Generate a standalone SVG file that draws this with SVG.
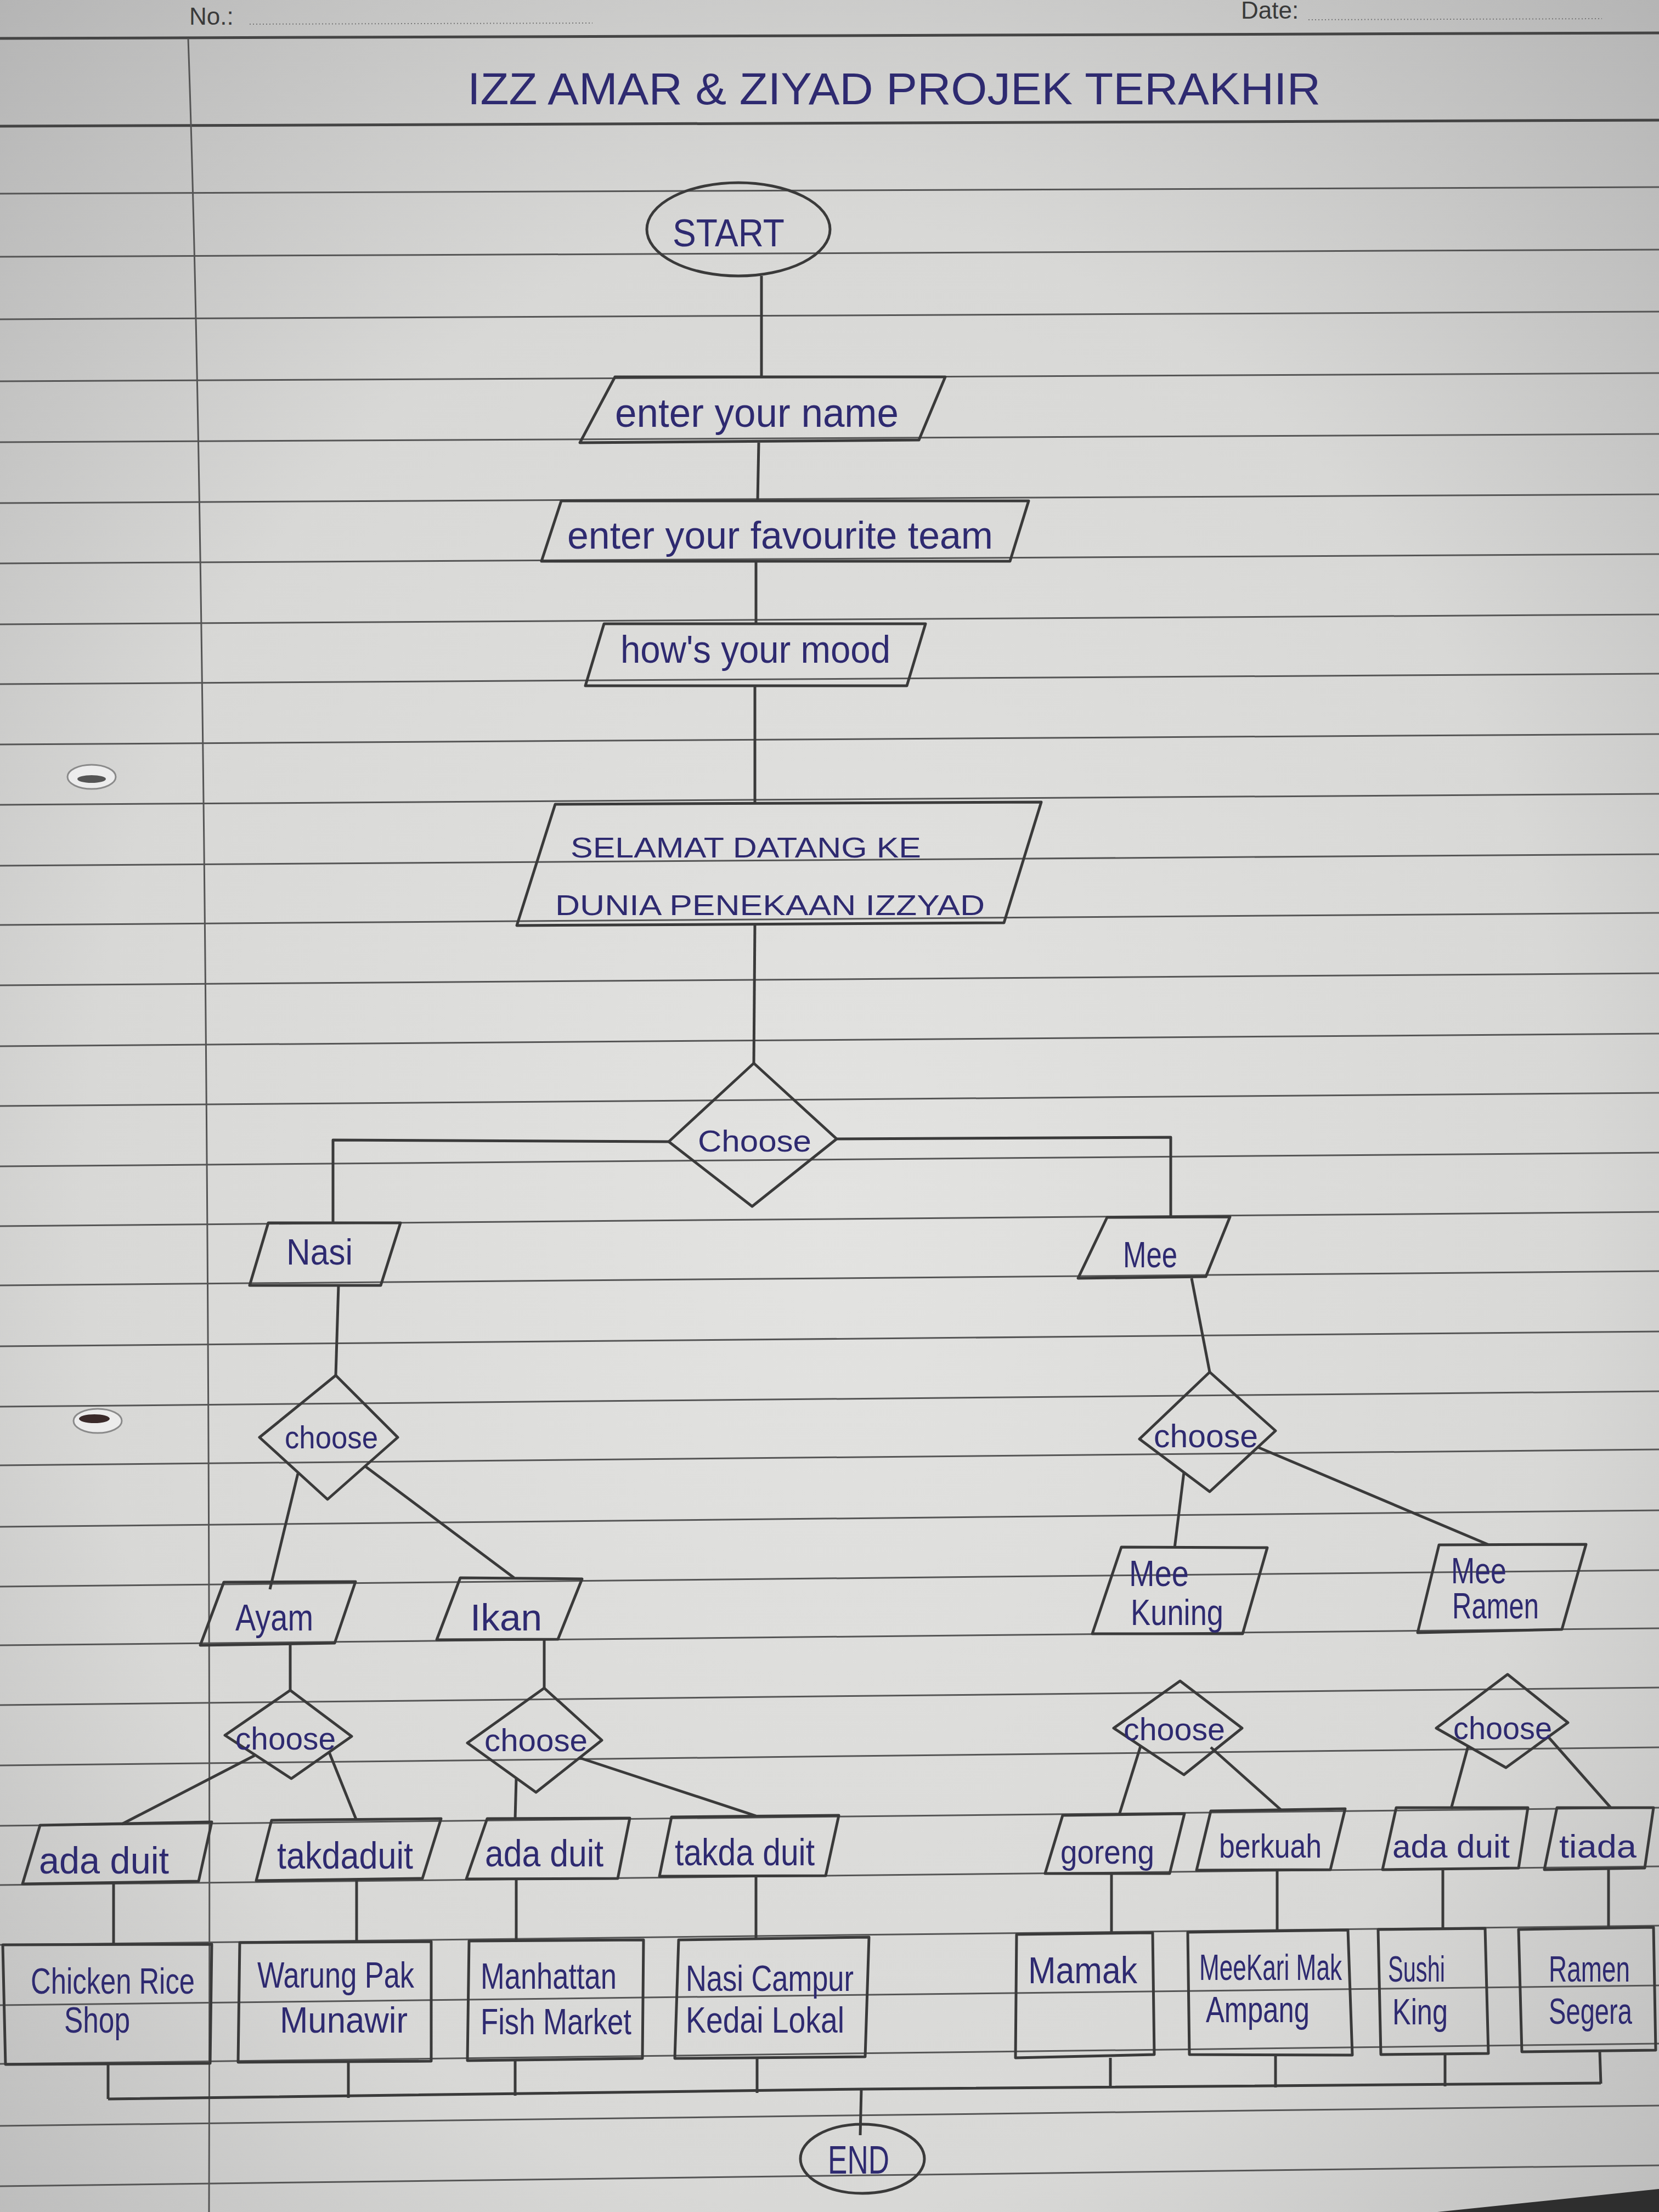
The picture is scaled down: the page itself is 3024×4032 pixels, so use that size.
<svg xmlns="http://www.w3.org/2000/svg" width="3024" height="4032" viewBox="0 0 3024 4032">
<defs>
<radialGradient id="paper" cx="0.5" cy="0.55" r="0.75">
<stop offset="0" stop-color="#e3e3e1"/>
<stop offset="0.6" stop-color="#d8d8d6"/>
<stop offset="1" stop-color="#b4b4b4"/>
</radialGradient>
<style>
.rule{stroke:#555;stroke-width:3;fill:none}
.head{stroke:#444;stroke-width:5;fill:none}
.shape{fill:none;stroke:#3a3a3a;stroke-width:5;stroke-linejoin:round}
.conn{fill:none;stroke:#3a3a3a;stroke-width:5;stroke-linejoin:round}
.ink{font-family:"Liberation Sans","DejaVu Sans",sans-serif;fill:#2e2a70}
.print{font-family:"Liberation Sans Narrow","Liberation Sans",sans-serif;fill:#3a3a3a}
</style>
</defs>
<rect x="0" y="0" width="3024" height="4032" fill="url(#paper)"/>
<polygon points="2620,4032 3024,3990 3024,4032" fill="#2e2e2e"/>
<g id="paper-lines">
<text class="print" x="345" y="45" font-size="44">No.:</text>
<line x1="455" y1="44" x2="1080" y2="42" stroke="#777" stroke-width="2" stroke-dasharray="2,4"/>
<text class="print" x="2262" y="34" font-size="44">Date:</text>
<line x1="2385" y1="36" x2="2920" y2="34" stroke="#777" stroke-width="2" stroke-dasharray="2,4"/>
<line class="head" x1="0" y1="70" x2="3024" y2="60"/>
<line class="head" x1="0" y1="230" x2="3024" y2="219"/>
<line class="rule" x1="0" y1="353" x2="3024" y2="341"/>
<line class="rule" x1="0" y1="468" x2="3024" y2="455"/>
<line class="rule" x1="0" y1="582" x2="3024" y2="568"/>
<line class="rule" x1="0" y1="695" x2="3024" y2="680"/>
<line class="rule" x1="0" y1="806" x2="3024" y2="791"/>
<line class="rule" x1="0" y1="917" x2="3024" y2="901"/>
<line class="rule" x1="0" y1="1027" x2="3024" y2="1010"/>
<line class="rule" x1="0" y1="1138" x2="3024" y2="1120"/>
<line class="rule" x1="0" y1="1247" x2="3024" y2="1228"/>
<line class="rule" x1="0" y1="1357" x2="3024" y2="1338"/>
<line class="rule" x1="0" y1="1467" x2="3024" y2="1447"/>
<line class="rule" x1="0" y1="1578" x2="3024" y2="1557"/>
<line class="rule" x1="0" y1="1686" x2="3024" y2="1664"/>
<line class="rule" x1="0" y1="1796" x2="3024" y2="1774"/>
<line class="rule" x1="0" y1="1907" x2="3024" y2="1884"/>
<line class="rule" x1="0" y1="2016" x2="3024" y2="1992"/>
<line class="rule" x1="0" y1="2126" x2="3024" y2="2101"/>
<line class="rule" x1="0" y1="2235" x2="3024" y2="2209"/>
<line class="rule" x1="0" y1="2343" x2="3024" y2="2317"/>
<line class="rule" x1="0" y1="2454" x2="3024" y2="2427"/>
<line class="rule" x1="0" y1="2564" x2="3024" y2="2536"/>
<line class="rule" x1="0" y1="2671" x2="3024" y2="2642"/>
<line class="rule" x1="0" y1="2783" x2="3024" y2="2753"/>
<line class="rule" x1="0" y1="2892" x2="3024" y2="2862"/>
<line class="rule" x1="0" y1="2999" x2="3024" y2="2968"/>
<line class="rule" x1="0" y1="3108" x2="3024" y2="3076"/>
<line class="rule" x1="0" y1="3218" x2="3024" y2="3185"/>
<line class="rule" x1="0" y1="3328" x2="3024" y2="3295"/>
<line class="rule" x1="0" y1="3436" x2="3024" y2="3402"/>
<line class="rule" x1="0" y1="3545" x2="3024" y2="3510"/>
<line class="rule" x1="0" y1="3655" x2="3024" y2="3619"/>
<line class="rule" x1="0" y1="3762" x2="3024" y2="3725"/>
<line class="rule" x1="0" y1="3875" x2="3024" y2="3838"/>
<line class="rule" x1="0" y1="3985" x2="3024" y2="3947"/>
<path class="rule" d="M343,70 C372,900 385,2500 381,4032"/>
<ellipse cx="167" cy="1416" rx="44" ry="22" fill="#ececec" stroke="#8a8a8a" stroke-width="3"/>
<ellipse cx="167" cy="1420" rx="26" ry="7" fill="#555"/>
<ellipse cx="178" cy="2590" rx="44" ry="22" fill="#ececec" stroke="#8a8a8a" stroke-width="3"/>
<ellipse cx="172" cy="2586" rx="28" ry="8" fill="#3a2a2a"/>
</g>
<text id="title" class="ink" x="852" y="190" font-size="82" textLength="1555" lengthAdjust="spacingAndGlyphs">IZZ AMAR &amp; ZIYAD  PROJEK TERAKHIR</text>
<g id="connectors">
<polyline class="conn" points="1388,503 1388,689"/>
<polyline class="conn" points="1383,807 1381,913"/>
<polyline class="conn" points="1378,1023 1378,1137"/>
<polyline class="conn" points="1376,1250 1376,1466"/>
<polyline class="conn" points="1376,1684 1374,1938"/>
<polyline class="conn" points="1219,2081 607,2078 607,2229"/>
<polyline class="conn" points="1525,2076 2134,2073 2134,2219"/>
<polyline class="conn" points="617,2343 612,2507"/>
<polyline class="conn" points="2172,2330 2205,2501"/>
<polyline class="conn" points="543,2686 492,2897"/>
<polyline class="conn" points="666,2673 937,2876"/>
<polyline class="conn" points="2158,2684 2141,2822"/>
<polyline class="conn" points="2293,2638 2714,2816"/>
<polyline class="conn" points="529,2998 529,3081"/>
<polyline class="conn" points="992,2989 992,3077"/>
<polyline class="conn" points="464,3200 222,3325"/>
<polyline class="conn" points="600,3194 649,3316"/>
<polyline class="conn" points="941,3241 939,3315"/>
<polyline class="conn" points="1056,3204 1378,3310"/>
<polyline class="conn" points="2079,3183 2040,3308"/>
<polyline class="conn" points="2207,3185 2335,3299"/>
<polyline class="conn" points="2676,3183 2645,3297"/>
<polyline class="conn" points="2823,3167 2936,3295"/>
<polyline class="conn" points="207,3434 207,3545"/>
<polyline class="conn" points="650,3428 650,3540"/>
<polyline class="conn" points="941,3425 941,3537"/>
<polyline class="conn" points="1378,3420 1378,3533"/>
<polyline class="conn" points="2026,3415 2026,3525"/>
<polyline class="conn" points="2328,3409 2328,3520"/>
<polyline class="conn" points="2630,3408 2630,3516"/>
<polyline class="conn" points="2932,3408 2932,3515"/>
<polyline class="conn" points="197,3763 197,3826"/>
<polyline class="conn" points="635,3759 635,3824"/>
<polyline class="conn" points="939,3756 939,3820"/>
<polyline class="conn" points="1380,3751 1380,3815"/>
<polyline class="conn" points="2024,3751 2024,3806"/>
<polyline class="conn" points="2325,3746 2325,3805"/>
<polyline class="conn" points="2634,3745 2634,3803"/>
<polyline class="conn" points="2916,3739 2918,3798"/>
<polyline class="conn" points="197,3826 1571,3808 2918,3797"/>
<polyline class="conn" points="1570,3808 1568,3892"/>
</g>
<g id="start">
<ellipse class="shape" cx="1346" cy="418" rx="167" ry="85"/>
<text class="ink" x="1226" y="449" font-size="70" textLength="204" lengthAdjust="spacingAndGlyphs">START</text>
</g>
<g id="enter-name">
<polygon class="shape" points="1121,687 1723,687 1675,802 1057,807"/>
<text class="ink" x="1121" y="778" font-size="74" textLength="517" lengthAdjust="spacingAndGlyphs">enter your name</text>
</g>
<g id="enter-team">
<polygon class="shape" points="1023,913 1875,913 1841,1023 987,1023"/>
<text class="ink" x="1034" y="1000" font-size="70" textLength="776" lengthAdjust="spacingAndGlyphs">enter your favourite team</text>
</g>
<g id="mood">
<polygon class="shape" points="1101,1137 1687,1137 1653,1250 1067,1250"/>
<text class="ink" x="1131" y="1208" font-size="70" textLength="492" lengthAdjust="spacingAndGlyphs">how's your mood</text>
</g>
<g id="selamat">
<polygon class="shape" points="1012,1466 1898,1462 1830,1682 942,1687"/>
<text class="ink" x="1040" y="1563" font-size="52" textLength="639" lengthAdjust="spacingAndGlyphs">SELAMAT DATANG KE</text>
<text class="ink" x="1012" y="1668" font-size="52" textLength="783" lengthAdjust="spacingAndGlyphs">DUNIA PENEKAAN IZZYAD</text>
</g>
<g id="choose-main">
<polygon class="shape" points="1374,1938 1525,2076 1371,2199 1219,2081"/>
<text class="ink" x="1272" y="2099" font-size="56" textLength="207" lengthAdjust="spacingAndGlyphs">Choose</text>
</g>
<g id="nasi">
<polygon class="shape" points="489,2229 730,2229 694,2343 455,2343"/>
<text class="ink" x="522" y="2305" font-size="66" textLength="121" lengthAdjust="spacingAndGlyphs">Nasi</text>
</g>
<g id="mee">
<polygon class="shape" points="2018,2219 2242,2218 2198,2327 1965,2330"/>
<text class="ink" x="2047" y="2310" font-size="66" textLength="99" lengthAdjust="spacingAndGlyphs">Mee</text>
</g>
<g id="choose-nasi">
<polygon class="shape" points="612,2507 725,2620 597,2733 473,2620"/>
<text class="ink" x="519" y="2640" font-size="58" textLength="170" lengthAdjust="spacingAndGlyphs">choose</text>
</g>
<g id="choose-mee">
<polygon class="shape" points="2205,2501 2325,2608 2205,2719 2077,2623"/>
<text class="ink" x="2103" y="2638" font-size="60" textLength="190" lengthAdjust="spacingAndGlyphs">choose</text>
</g>
<g id="ayam">
<polygon class="shape" points="408,2884 648,2883 610,2995 365,2999"/>
<text class="ink" x="429" y="2972" font-size="68" textLength="142" lengthAdjust="spacingAndGlyphs">Ayam</text>
</g>
<g id="ikan">
<polygon class="shape" points="839,2876 1061,2878 1017,2988 796,2989"/>
<text class="ink" x="857" y="2972" font-size="68" textLength="131" lengthAdjust="spacingAndGlyphs">Ikan</text>
</g>
<g id="mee-kuning">
<polygon class="shape" points="2044,2820 2310,2821 2265,2978 1991,2978"/>
<text class="ink" x="2058" y="2891" font-size="66" textLength="109" lengthAdjust="spacingAndGlyphs">Mee</text>
<text class="ink" x="2061" y="2962" font-size="66" textLength="169" lengthAdjust="spacingAndGlyphs">Kuning</text>
</g>
<g id="mee-ramen">
<polygon class="shape" points="2623,2816 2891,2815 2847,2970 2584,2976"/>
<text class="ink" x="2645" y="2886" font-size="66" textLength="101" lengthAdjust="spacingAndGlyphs">Mee</text>
<text class="ink" x="2647" y="2950" font-size="66" textLength="158" lengthAdjust="spacingAndGlyphs">Ramen</text>
</g>
<g id="choose-ayam">
<polygon class="shape" points="529,3081 641,3165 531,3242 410,3163"/>
<text class="ink" x="429" y="3189" font-size="58" textLength="183" lengthAdjust="spacingAndGlyphs">choose</text>
</g>
<g id="choose-ikan">
<polygon class="shape" points="992,3077 1097,3172 977,3267 852,3177"/>
<text class="ink" x="883" y="3192" font-size="58" textLength="188" lengthAdjust="spacingAndGlyphs">choose</text>
</g>
<g id="choose-kuning">
<polygon class="shape" points="2151,3064 2264,3150 2158,3235 2030,3150"/>
<text class="ink" x="2048" y="3172" font-size="58" textLength="185" lengthAdjust="spacingAndGlyphs">choose</text>
</g>
<g id="choose-ramen">
<polygon class="shape" points="2748,3052 2858,3140 2745,3222 2618,3150"/>
<text class="ink" x="2649" y="3170" font-size="58" textLength="180" lengthAdjust="spacingAndGlyphs">choose</text>
</g>
<g id="ayam-ada-duit">
<polygon class="shape" points="73,3327 386,3321 362,3429 41,3434"/>
<text class="ink" x="71" y="3415" font-size="68" textLength="237" lengthAdjust="spacingAndGlyphs">ada duit</text>
</g>
<g id="ayam-takda-duit">
<polygon class="shape" points="495,3318 804,3315 770,3424 467,3428"/>
<text class="ink" x="505" y="3406" font-size="68" textLength="248" lengthAdjust="spacingAndGlyphs">takdaduit</text>
</g>
<g id="ikan-ada-duit">
<polygon class="shape" points="888,3315 1148,3314 1126,3424 850,3425"/>
<text class="ink" x="884" y="3402" font-size="68" textLength="216" lengthAdjust="spacingAndGlyphs">ada duit</text>
</g>
<g id="ikan-takda-duit">
<polygon class="shape" points="1224,3312 1529,3309 1505,3419 1202,3420"/>
<text class="ink" x="1230" y="3400" font-size="68" textLength="255" lengthAdjust="spacingAndGlyphs">takda duit</text>
</g>
<g id="goreng">
<polygon class="shape" points="1937,3309 2159,3306 2132,3415 1905,3415"/>
<text class="ink" x="1933" y="3397" font-size="62" textLength="171" lengthAdjust="spacingAndGlyphs">goreng</text>
</g>
<g id="berkuah">
<polygon class="shape" points="2207,3301 2452,3297 2425,3408 2181,3409"/>
<text class="ink" x="2222" y="3386" font-size="62" textLength="187" lengthAdjust="spacingAndGlyphs">berkuah</text>
</g>
<g id="ramen-ada-duit">
<polygon class="shape" points="2545,3295 2785,3295 2768,3405 2520,3408"/>
<text class="ink" x="2538" y="3386" font-size="60" textLength="214" lengthAdjust="spacingAndGlyphs">ada duit</text>
</g>
<g id="tiada">
<polygon class="shape" points="2838,3295 3014,3295 2998,3405 2815,3408"/>
<text class="ink" x="2842" y="3386" font-size="60" textLength="141" lengthAdjust="spacingAndGlyphs">tiada</text>
</g>
<g id="chicken-rice">
<polygon class="shape" points="5,3545 386,3544 383,3761 10,3763"/>
<text class="ink" x="56" y="3634" font-size="66" textLength="299" lengthAdjust="spacingAndGlyphs">Chicken Rice</text>
<text class="ink" x="117" y="3705" font-size="66" textLength="120" lengthAdjust="spacingAndGlyphs">Shop</text>
</g>
<g id="warung">
<polygon class="shape" points="437,3541 786,3539 786,3757 434,3759"/>
<text class="ink" x="469" y="3623" font-size="66" textLength="286" lengthAdjust="spacingAndGlyphs">Warung Pak</text>
<text class="ink" x="510" y="3705" font-size="66" textLength="233" lengthAdjust="spacingAndGlyphs">Munawir</text>
</g>
<g id="manhattan">
<polygon class="shape" points="855,3538 1173,3536 1171,3752 852,3756"/>
<text class="ink" x="876" y="3625" font-size="66" textLength="248" lengthAdjust="spacingAndGlyphs">Manhattan</text>
<text class="ink" x="876" y="3708" font-size="66" textLength="275" lengthAdjust="spacingAndGlyphs">Fish Market</text>
</g>
<g id="nasi-campur">
<polygon class="shape" points="1237,3536 1584,3531 1577,3749 1230,3752"/>
<text class="ink" x="1250" y="3629" font-size="66" textLength="306" lengthAdjust="spacingAndGlyphs">Nasi Campur</text>
<text class="ink" x="1250" y="3705" font-size="66" textLength="289" lengthAdjust="spacingAndGlyphs">Kedai Lokal</text>
</g>
<g id="mamak">
<polygon class="shape" points="1853,3526 2101,3523 2104,3745 1851,3751"/>
<text class="ink" x="1874" y="3615" font-size="68" textLength="199" lengthAdjust="spacingAndGlyphs">Mamak</text>
</g>
<g id="mee-kari">
<polygon class="shape" points="2165,3522 2457,3518 2465,3746 2168,3745"/>
<text class="ink" x="2186" y="3609" font-size="66" textLength="260" lengthAdjust="spacingAndGlyphs">MeeKari Mak</text>
<text class="ink" x="2198" y="3686" font-size="66" textLength="189" lengthAdjust="spacingAndGlyphs">Ampang</text>
</g>
<g id="sushi-king">
<polygon class="shape" points="2512,3517 2707,3515 2713,3743 2517,3745"/>
<text class="ink" x="2530" y="3612" font-size="66" textLength="104" lengthAdjust="spacingAndGlyphs">Sushi</text>
<text class="ink" x="2538" y="3690" font-size="66" textLength="101" lengthAdjust="spacingAndGlyphs">King</text>
</g>
<g id="ramen-segera">
<polygon class="shape" points="2768,3517 3014,3513 3018,3737 2774,3740"/>
<text class="ink" x="2823" y="3612" font-size="66" textLength="148" lengthAdjust="spacingAndGlyphs">Ramen</text>
<text class="ink" x="2823" y="3689" font-size="66" textLength="152" lengthAdjust="spacingAndGlyphs">Segera</text>
</g>
<g id="end">
<ellipse class="shape" cx="1572" cy="3935" rx="113" ry="63"/>
<text class="ink" x="1509" y="3962" font-size="72" textLength="112" lengthAdjust="spacingAndGlyphs">END</text>
</g>
</svg>
